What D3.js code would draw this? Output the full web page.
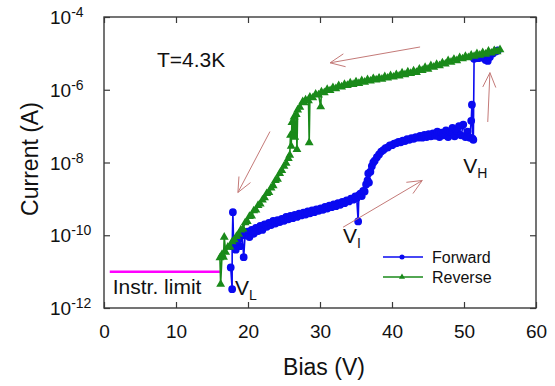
<!DOCTYPE html>
<html>
<head>
<meta charset="utf-8">
<script src="https://cdn.jsdelivr.net/npm/d3@7"></script>
<style>
  body { margin: 0; background: #fff; }
  svg { display: block; font-family: "Liberation Sans", Arial, sans-serif; }
</style>
</head>
<body>
<svg id="chart" width="555" height="386"></svg>
<script>
// Forward sweep (blue), in measurement order
const forwardBias = [
  17.6, 17.8, 17.8, 17.9, 18.0, 18.3, 18.6, 18.9, 19.2, 19.4, 19.6, 19.9, 20.2, 20.5, 20.8,
  21.1, 21.4, 21.7, 22.0, 22.3, 22.6, 22.9, 23.2, 23.5, 23.8, 24.1, 24.4, 24.7, 25.0, 25.3,
  25.6, 25.9, 26.2, 26.5, 26.8, 27.1, 27.4, 27.7, 28.0, 28.3, 28.6, 28.9, 29.2, 29.5, 29.8,
  30.1, 30.4, 30.7, 31.0, 31.3, 31.6, 31.9, 32.2, 32.5, 32.8, 33.1, 33.4, 33.7, 34.0, 34.3,
  34.6, 34.9, 35.1, 35.3, 35.4, 35.6, 35.8, 36.0, 36.2, 36.4, 36.6, 36.7, 36.8, 37.0, 37.2,
  37.4, 37.6, 37.9, 38.2, 38.5, 38.8, 39.1, 39.4, 39.7, 40.0, 40.3, 40.6, 40.9, 41.2, 41.5,
  41.8, 42.1, 42.4, 42.7, 43.0, 43.3, 43.6, 43.9, 44.2, 44.5, 44.8, 45.1, 45.4, 45.7, 46.0,
  46.3, 46.6, 46.9, 47.2, 47.5, 47.8, 48.1, 48.4, 48.7, 49.0, 49.3, 49.6, 49.9, 50.2, 50.5,
  50.8, 51.0, 51.1, 51.2, 51.3, 51.4, 52.0, 52.6, 53.0, 53.3, 53.6, 54.0, 54.4, 54.7
];
const forwardCurrent = [
  1.3e-11, 3.3e-12, 5.0e-11, 4.3e-10, 6.3e-11, 4.0e-11, 7.9e-11, 5.0e-11, 1.0e-10, 2.5e-11, 1.0e-10, 1.26e-10, 8.9e-11, 1.4e-10, 1.1e-10,
  1.6e-10, 1.3e-10, 1.8e-10, 1.4e-10, 2.0e-10, 1.7e-10, 2.2e-10, 1.9e-10, 2.5e-10, 2.1e-10, 2.6e-10, 2.3e-10, 2.8e-10, 2.5e-10, 3.2e-10,
  2.75e-10, 3.4e-10, 2.95e-10, 3.6e-10, 3.2e-10, 3.9e-10, 3.5e-10, 4.2e-10, 3.7e-10, 4.5e-10, 4.0e-10, 4.8e-10, 4.3e-10, 5.1e-10, 4.7e-10,
  5.5e-10, 5.0e-10, 6.0e-10, 5.4e-10, 6.5e-10, 5.9e-10, 7.1e-10, 6.3e-10, 7.6e-10, 6.9e-10, 8.3e-10, 7.6e-10, 9.1e-10, 8.5e-10, 1.02e-9,
  9.5e-10, 1.17e-9, 1.05e-9, 2.4e-10, 1.26e-9, 1.4e-9, 1.2e-9, 1.66e-9, 1.6e-9, 2.5e-9, 3.2e-9, 5.0e-9, 2.8e-9, 5.6e-9, 7.9e-9,
  1.0e-8, 1.12e-8, 1.4e-8, 1.66e-8, 2.0e-8, 2.2e-8, 2.5e-8, 2.6e-8, 2.95e-8, 3.0e-8, 3.3e-8, 3.4e-8, 3.7e-8, 3.6e-8, 4.0e-8,
  3.9e-8, 4.4e-8, 4.2e-8, 4.7e-8, 4.5e-8, 5.0e-8, 4.8e-8, 5.4e-8, 4.8e-8, 5.75e-8, 5.0e-8, 6.0e-8, 5.25e-8, 6.3e-8, 5.4e-8,
  7.1e-8, 5.0e-8, 6.6e-8, 5.6e-8, 7.6e-8, 5.0e-8, 7.1e-8, 8.9e-8, 5.25e-8, 7.6e-8, 1.0e-7, 5.6e-8, 1.1e-7, 5.0e-8, 7.1e-8,
  4.8e-8, 1.4e-7, 3.9e-7, 4.5e-8, 4.2e-8, 7.1e-6, 7.4e-6, 7.6e-6, 6.6e-6, 6.2e-6, 7.9e-6, 1.0e-5, 1.12e-5, 1.2e-5
];

// Reverse sweep (green), in measurement order (high bias to low bias)
const reverseBias = [
  55.0, 54.6, 54.2, 53.8, 53.4, 53.0, 52.6, 52.2, 51.8, 51.4, 51.0, 50.6, 50.2, 49.8, 49.4,
  49.0, 48.6, 48.2, 47.8, 47.4, 47.0, 46.6, 46.2, 45.8, 45.4, 45.0, 44.6, 44.2, 43.8, 43.4,
  43.0, 42.6, 42.2, 41.8, 41.4, 41.0, 40.6, 40.2, 39.8, 39.4, 39.0, 38.6, 38.2, 37.8, 37.4,
  37.0, 36.6, 36.2, 35.8, 35.4, 35.0, 34.6, 34.2, 33.8, 33.4, 33.0, 32.6, 32.2, 31.8, 31.4,
  31.0, 30.6, 30.2, 30.1, 29.8, 29.4, 29.0, 28.6, 28.5, 28.4, 28.0, 27.8, 27.6, 27.2, 26.9,
  26.8, 26.7, 26.5, 26.4, 26.2, 26.1, 26.0, 25.9, 25.8, 25.6, 25.3, 25.0, 24.7, 24.4, 24.1,
  23.8, 23.5, 23.2, 22.9, 22.6, 22.3, 22.0, 21.7, 21.4, 21.1, 20.8, 20.5, 20.2, 19.9, 19.6,
  19.3, 19.0, 18.7, 18.4, 18.1, 17.8, 17.5, 17.2, 16.9, 16.7, 16.6, 16.4, 16.2, 16.1
];
const reverseCurrent = [
  1.26e-5, 1.12e-5, 1.2e-5, 1.02e-5, 1.15e-5, 9.5e-6, 1.05e-5, 8.9e-6, 9.8e-6, 8.3e-6, 8.9e-6, 7.6e-6, 8.3e-6, 7.1e-6, 7.6e-6,
  6.3e-6, 6.9e-6, 5.75e-6, 6.3e-6, 5.1e-6, 5.5e-6, 4.6e-6, 5.0e-6, 4.2e-6, 4.6e-6, 3.7e-6, 4.1e-6, 3.4e-6, 3.7e-6, 3.0e-6,
  3.3e-6, 2.8e-6, 3.1e-6, 2.6e-6, 2.9e-6, 2.4e-6, 2.6e-6, 2.24e-6, 2.45e-6, 2.1e-6, 2.3e-6, 1.95e-6, 2.1e-6, 1.86e-6, 2.04e-6,
  1.74e-6, 1.9e-6, 1.62e-6, 1.78e-6, 1.5e-6, 1.66e-6, 1.4e-6, 1.55e-6, 1.32e-6, 1.4e-6, 1.2e-6, 1.3e-6, 1.07e-6, 1.15e-6, 9.5e-7,
  1.02e-6, 8.3e-7, 8.7e-7, 3.4e-7, 7.2e-7, 7.6e-7, 6.0e-7, 6.3e-7, 3.5e-8, 5.0e-7, 5.25e-7, 4.4e-7, 4.7e-7, 3.3e-7, 2.8e-7,
  2.3e-8, 2.1e-7, 5.0e-8, 1.8e-7, 6.3e-8, 1.26e-7, 2.8e-8, 5.6e-8, 1.6e-8, 1.3e-8, 9.5e-9, 7.9e-9, 6.0e-9, 5.0e-9, 3.5e-9,
  3.2e-9, 2.3e-9, 2.0e-9, 1.5e-9, 1.4e-9, 1.07e-9, 9.3e-10, 7.2e-10, 6.6e-10, 5.0e-10, 4.7e-10, 3.4e-10, 3.3e-10, 2.4e-10, 2.2e-10,
  1.5e-10, 1.4e-10, 1.07e-10, 9.3e-11, 7.6e-11, 6.6e-11, 4.8e-11, 4.7e-11, 3.4e-11, 8.9e-11, 2.5e-11, 3.0e-11, 4.5e-12, 2.4e-11
];

const seriesNames = ["Forward", "Reverse"];
const seriesColors = ["#0a0af0", "#1a8a1a"];

const xTicks = [0, 10, 20, 30, 40, 50, 60];
const yTickExponents = [-12, -10, -8, -6, -4];

// Instrument limit line
const limitBias = [0.8, 16.1];
const limitCurrent = 1e-11;

// Sweep direction arrows: from (bias, current) to (bias, current)
const arrowFromBias = [43.9, 23.05, 33.2, 53.3];
const arrowFromCurrent = [1.5e-5, 7.1e-8, 1.66e-10, 1.3e-7];
const arrowToBias = [31.4, 18.6, 44.2, 53.6];
const arrowToCurrent = [5.5e-6, 1.5e-9, 3.2e-9, 2.95e-6];

// Point labels (letter + subscript) anchored at bias/current
const labelText = ["V", "V", "V"];
const labelSub = ["H", "I", "L"];
const labelBias = [49.9, 33.2, 18.2];
const labelCurrent = [5.1e-9, 6.2e-11, 2.3e-12];

class IVChart {
  constructor() {
    this.margin = { top: 17, right: 19, bottom: 78, left: 104 };
    this.svg = d3.select("#chart");
    this.width = 555 - this.margin.left - this.margin.right;
    this.height = 386 - this.margin.top - this.margin.bottom;
    this.render();
  }

  render() {
    const g = this.svg.append("g")
      .attr("transform", `translate(${this.margin.left},${this.margin.top})`);

    this.x = d3.scaleLinear().domain([0, 60]).range([0, this.width]);
    this.y = d3.scaleLog().domain([1e-12, 1e-4]).range([this.height, 0]);

    this.addAxes(g);
    this.addLimit(g);
    this.addSeries(g, forwardBias, forwardCurrent, seriesColors[0], "circle");
    this.addSeries(g, reverseBias, reverseCurrent, seriesColors[1], "triangle");
    this.addArrows(g);
    this.addLabels(g);
    this.addLegend(g);
  }

  addAxes(g) {
    const yVals = yTickExponents.map(e => Math.pow(10, e));
    const axisColor = "#3a3a3a";

    const bottom = g.append("g")
      .attr("transform", `translate(0,${this.height})`)
      .call(d3.axisBottom(this.x).tickValues(xTicks).tickSize(-6).tickSizeOuter(0).tickPadding(14));
    bottom.selectAll("text")
      .style("font-size", "19px")
      .style("fill", "#111")
      .attr("dy", "0.85em");

    g.append("g")
      .call(d3.axisTop(this.x).tickValues(xTicks).tickSize(-6).tickSizeOuter(0).tickFormat(""));
    g.append("g")
      .call(d3.axisLeft(this.y).tickValues(yVals).tickSize(-6).tickSizeOuter(0).tickFormat(""));
    g.append("g")
      .attr("transform", `translate(${this.width},0)`)
      .call(d3.axisRight(this.y).tickValues(yVals).tickSize(-6).tickSizeOuter(0).tickFormat(""));

    g.selectAll(".domain").remove();
    g.selectAll(".tick line").attr("stroke", axisColor).attr("stroke-width", 1.2);

    g.append("rect")
      .attr("width", this.width)
      .attr("height", this.height)
      .attr("fill", "none")
      .attr("stroke", axisColor)
      .attr("stroke-width", 1.4);

    // y tick labels with superscript exponents
    yTickExponents.forEach(e => {
      const t = g.append("text")
        .attr("x", 50 - this.margin.left)
        .attr("y", this.y(Math.pow(10, e)) + 7)
        .style("fill", "#111")
        .style("font-size", "19px");
      t.append("tspan").text("10");
      t.append("tspan")
        .attr("dy", -7)
        .style("font-size", "14px")
        .text("-" + Math.abs(e));
    });

    g.append("text")
      .attr("x", this.width / 2 + 4)
      .attr("y", this.height + 67)
      .attr("text-anchor", "middle")
      .style("font-size", "23px")
      .style("fill", "#111")
      .text("Bias (V)");

    g.append("text")
      .attr("transform", `translate(${38 - this.margin.left},${159 - this.margin.top}) rotate(-90)`)
      .attr("text-anchor", "middle")
      .style("font-size", "23px")
      .style("fill", "#111")
      .text("Current (A)");

    g.append("text")
      .attr("x", 157 - this.margin.left)
      .attr("y", 67 - this.margin.top)
      .style("font-size", "21px")
      .style("fill", "#111")
      .text("T=4.3K");
  }

  addLimit(g) {
    g.append("line")
      .attr("x1", this.x(limitBias[0]))
      .attr("x2", this.x(limitBias[1]))
      .attr("y1", this.y(limitCurrent))
      .attr("y2", this.y(limitCurrent))
      .attr("stroke", "#ff00ff")
      .attr("stroke-width", 2.5);

    g.append("text")
      .attr("x", this.x(limitBias[0]) + 3)
      .attr("y", this.y(limitCurrent) + 22)
      .style("font-size", "21px")
      .style("fill", "#111")
      .text("Instr. limit");
  }

  addSeries(g, xs, ys, color, shape) {
    const pts = xs.map((v, i) => ({ v: v, c: ys[i] }));
    const line = d3.line()
      .x(d => this.x(d.v))
      .y(d => this.y(d.c));

    g.append("path")
      .datum(pts)
      .attr("d", line)
      .attr("fill", "none")
      .attr("stroke", color)
      .attr("stroke-width", 1.6);

    const sym = d3.symbol()
      .type(shape === "circle" ? d3.symbolCircle : d3.symbolTriangle)
      .size(shape === "circle" ? 30 : 16);

    g.append("g").selectAll("path")
      .data(pts)
      .enter()
      .append("path")
      .attr("d", sym)
      .attr("transform", d => `translate(${this.x(d.v)},${this.y(d.c)})`)
      .attr("fill", color)
      .attr("stroke", color)
      .attr("stroke-width", 1.6);
  }

  addArrows(g) {
    const color = "#c47a78";
    arrowFromBias.forEach((b, i) => {
      const x1 = this.x(b), y1 = this.y(arrowFromCurrent[i]);
      const x2 = this.x(arrowToBias[i]), y2 = this.y(arrowToCurrent[i]);
      const ang = Math.atan2(y2 - y1, x2 - x1);
      const len = 16, spread = 0.42;
      const barbs = [ang + Math.PI - spread, ang + Math.PI + spread].map(a =>
        [x2 + len * Math.cos(a), y2 + len * Math.sin(a)]);
      g.append("path")
        .attr("d", `M${x1},${y1}L${x2},${y2}M${barbs[0][0]},${barbs[0][1]}L${x2},${y2}L${barbs[1][0]},${barbs[1][1]}`)
        .attr("fill", "none")
        .attr("stroke", color)
        .attr("stroke-width", 1);
    });
  }

  addLabels(g) {
    labelText.forEach((txt, i) => {
      const t = g.append("text")
        .attr("x", this.x(labelBias[i]))
        .attr("y", this.y(labelCurrent[i]))
        .style("font-size", "21px")
        .style("fill", "#111");
      t.append("tspan").text(txt);
      t.append("tspan")
        .attr("dy", 5)
        .style("font-size", "14px")
        .text(labelSub[i]);
    });
  }

  addLegend(g) {
    const legend = g.append("g")
      .attr("transform", `translate(${383 - this.margin.left},${257 - this.margin.top})`);

    seriesNames.forEach((name, i) => {
      const row = legend.append("g").attr("transform", `translate(0,${i * 20})`);
      row.append("line")
        .attr("x1", 0).attr("x2", 40)
        .attr("stroke", seriesColors[i])
        .attr("stroke-width", 1.3);
      row.append("path")
        .attr("d", d3.symbol().type(i === 0 ? d3.symbolCircle : d3.symbolTriangle).size(i === 0 ? 20 : 16))
        .attr("transform", "translate(19,0)")
        .attr("fill", seriesColors[i]);
      row.append("text")
        .attr("x", 49)
        .attr("y", 6)
        .style("font-size", "16px")
        .style("fill", "#111")
        .text(name);
    });
  }
}

new IVChart();
</script>
</body>
</html>
